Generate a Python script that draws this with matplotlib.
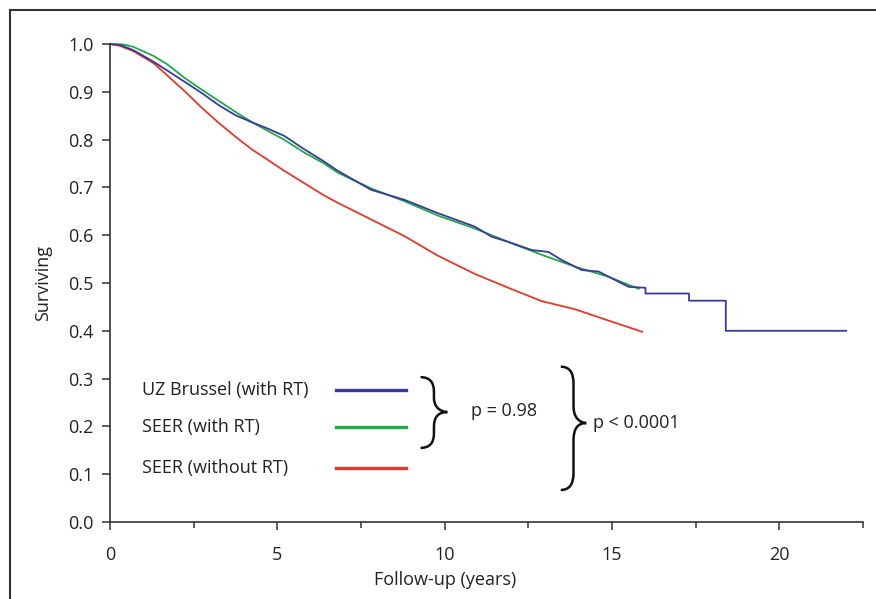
import matplotlib
matplotlib.use("Agg")
import matplotlib.pyplot as plt
from matplotlib.path import Path
from matplotlib.patches import PathPatch
from matplotlib.lines import Line2D
from matplotlib.ticker import MultipleLocator

plt.rcParams['font.family'] = ['Open Sans', 'DejaVu Sans']

# ---- data ----
uz_t = [0, 0.3, 0.7, 1.3, 1.7, 2.25, 2.75, 3.25, 3.75, 4.25, 4.75, 5.2, 5.8, 6.4,
        6.8, 7.8, 8.8, 9.8, 10.9, 11.4, 11.9, 12.6, 13.1, 13.5, 14.1, 14.6, 15.1,
        15.5, 16.0, 16.0, 17.3, 17.3, 18.4, 18.4, 22.0]
uz_s = [1.0, 0.998, 0.987, 0.963, 0.945, 0.920, 0.897, 0.872, 0.851, 0.836, 0.822,
        0.808, 0.780, 0.754, 0.735, 0.695, 0.674, 0.646, 0.618, 0.597, 0.586, 0.569,
        0.565, 0.548, 0.527, 0.524, 0.506, 0.492, 0.490, 0.478, 0.478, 0.463, 0.463,
        0.400, 0.400]

seer_rt_t = [0, 0.4, 0.7, 1.3, 1.7, 2.25, 2.75, 3.25, 3.75, 4.25, 4.75, 5.2, 5.8,
             6.4, 6.8, 7.8, 8.8, 9.8, 10.9, 11.9, 12.9, 13.9, 14.9, 15.5, 15.8]
seer_rt_s = [1.0, 0.999, 0.994, 0.975, 0.958, 0.928, 0.904, 0.881, 0.858, 0.836,
             0.817, 0.800, 0.773, 0.750, 0.731, 0.698, 0.671, 0.641, 0.614, 0.586,
             0.559, 0.534, 0.513, 0.496, 0.488]

seer_nort_t = [0, 0.3, 0.7, 1.3, 1.7, 2.25, 2.75, 3.25, 3.75, 4.25, 4.75, 5.2, 5.8,
               6.4, 6.8, 7.8, 8.8, 9.8, 10.9, 11.9, 12.9, 13.9, 14.7, 15.9]
seer_nort_s = [1.0, 0.996, 0.985, 0.960, 0.935, 0.900, 0.866, 0.835, 0.806, 0.779,
               0.756, 0.735, 0.709, 0.683, 0.668, 0.633, 0.598, 0.557, 0.519, 0.490,
               0.462, 0.445, 0.426, 0.398]

labels = ["UZ Brussel (with RT)", "SEER (with RT)", "SEER (without RT)"]
colors = ["#3a3a9e", "#1faa4a", "#e2392c"]
p_labels = ["p = 0.98", "p < 0.0001"]

x_ticks = [0, 5, 10, 15, 20]
y_ticks = [0.0, 0.1, 0.2, 0.3, 0.4, 0.5, 0.6, 0.7, 0.8, 0.9, 1.0]

FS = 13

# ---- figure ----
fig = plt.figure(figsize=(8.76, 5.99), dpi=100)
ax = fig.add_axes([110/876, 1 - 522/599, (863 - 110)/876, (522 - 44)/599])

ax.plot(seer_nort_t, seer_nort_s, color=colors[2], lw=1.3, clip_on=False)
ax.plot(seer_rt_t, seer_rt_s, color=colors[1], lw=1.3, clip_on=False)
ax.plot(uz_t, uz_s, color=colors[0], lw=1.3, clip_on=False)

ax.set_xlim(0, 22.5)
ax.set_ylim(0, 1.0)
ax.set_xticks(x_ticks)
ax.xaxis.set_minor_locator(MultipleLocator(2.5))
ax.set_yticks(y_ticks)
ax.set_yticklabels([f"{v:.1f}" for v in y_ticks])
for s in ['top', 'right']:
    ax.spines[s].set_visible(False)
for s in ['left', 'bottom']:
    ax.spines[s].set_color('#333333')
    ax.spines[s].set_linewidth(1.2)
ax.tick_params(axis='both', which='major', labelsize=FS, colors='#333333',
               labelcolor='#222222', length=6, width=1.1)
ax.tick_params(axis='x', which='major', pad=11)
ax.tick_params(axis='x', which='minor', length=4, width=1.1, colors='#333333')
ax.tick_params(axis='y', which='major', pad=6)

ax.set_xlabel("Follow-up (years)", fontsize=FS, color='#222222')
ax.xaxis.set_label_coords(10 / 22.5, -0.102)
ax.set_ylabel("Surviving", fontsize=FS, color='#222222', labelpad=11)

# legend (manual, drawn inside the axes)
leg_y = [0.276, 0.199, 0.112]
for lab, col, yy in zip(labels, colors, leg_y):
    ax.text(0.96, yy, lab, fontsize=FS, color='#222222', va='center', ha='left')
    ax.plot([6.75, 8.85], [yy, yy], color=col, lw=2.4)

def brace(x0, ytop, ybot, ymid, w, r):
    xm = x0 + w / 2
    xt = x0 + w
    verts = [(x0, ytop), (xm, ytop), (xm, ytop - r),
             (xm, ymid + r),
             (xm, ymid), (xt, ymid), (xt, ymid),
             (xm, ymid), (xm, ymid - r),
             (xm, ybot + r),
             (xm, ybot), (x0, ybot)]
    codes = [Path.MOVETO, Path.CURVE3, Path.CURVE3,
             Path.LINETO,
             Path.CURVE4, Path.CURVE4, Path.CURVE4,
             Path.CURVE3, Path.CURVE3,
             Path.LINETO,
             Path.CURVE3, Path.CURVE3]
    ax.add_patch(PathPatch(Path(verts, codes), fill=False, lw=1.8, color='#111111'))

brace(9.28, 0.303, 0.155, 0.230, 0.80, 0.03)
brace(13.47, 0.325, 0.067, 0.207, 0.76, 0.035)
ax.text(10.8, 0.232, p_labels[0], fontsize=FS, color='#222222', va='center', ha='left')
ax.text(14.42, 0.207, p_labels[1], fontsize=FS, color='#222222', va='center', ha='left')

# outer frame (left and top edges)
fig.add_artist(Line2D([10/876, 10/876], [0, 1 - 10/599], color='#333333', lw=1.5))
fig.add_artist(Line2D([10/876, 1], [1 - 10/599, 1 - 10/599], color='#333333', lw=1.5))

fig.savefig("out.png", dpi=100)
